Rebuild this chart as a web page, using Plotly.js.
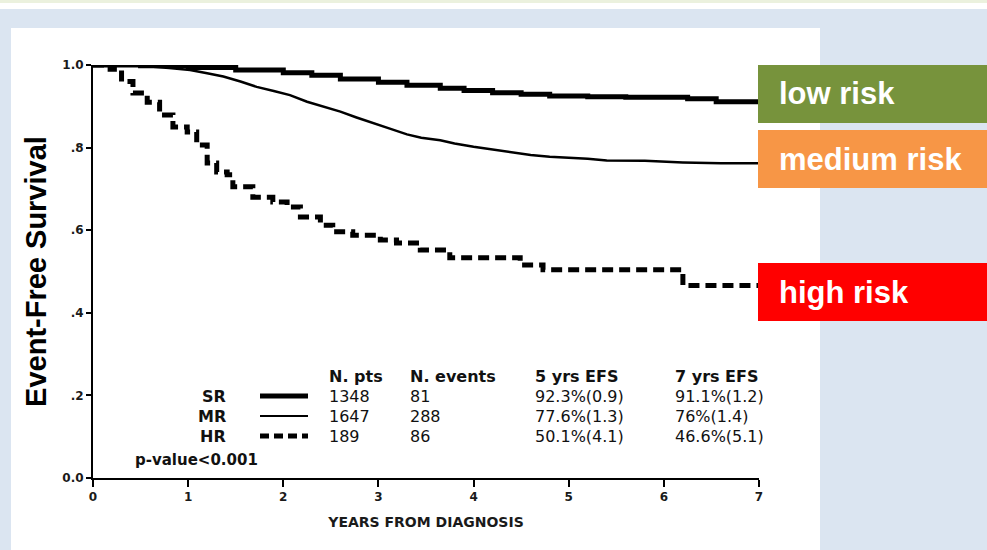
<!DOCTYPE html>
<html>
<head>
<meta charset="utf-8">
<script src="https://cdn.plot.ly/plotly-3.0.1.min.js"></script>
<style>html,body{margin:0;padding:0;background:#dbe5f1;}#chart{width:987px;height:550px;}</style>
</head>
<body>
<div id="chart"></div>
<script>
// ---- data ----
const srTime = [0, 0.5, 1.0, 1.5, 2.0, 2.3, 2.6, 3.0, 3.3, 3.65, 3.9, 4.2, 4.5, 4.8, 5.2, 5.6, 6.0, 6.25, 6.55, 7.0];
const srSurv = [1.0, 0.998, 0.994, 0.988, 0.981, 0.975, 0.966, 0.958, 0.951, 0.944, 0.938, 0.933, 0.929, 0.925, 0.923, 0.922, 0.922, 0.918, 0.911, 0.911];

const mrTime = [0, 0.5, 0.8, 1.02, 1.2, 1.37, 1.55, 1.72, 1.9, 2.07, 2.25, 2.42, 2.6, 2.77, 2.94, 3.12, 3.3, 3.45, 3.65, 3.8, 4.0, 4.2, 4.4, 4.6, 4.8, 5.0, 5.2, 5.4, 5.8, 6.2, 6.6, 7.0];
const mrSurv = [1.0, 0.998, 0.993, 0.988, 0.980, 0.972, 0.960, 0.947, 0.937, 0.927, 0.911, 0.900, 0.887, 0.873, 0.859, 0.846, 0.832, 0.824, 0.818, 0.810, 0.802, 0.795, 0.788, 0.782, 0.778, 0.776, 0.773, 0.769, 0.768, 0.764, 0.762, 0.762];

const hrTime = [0, 0.18, 0.3, 0.42, 0.57, 0.7, 0.84, 0.99, 1.09, 1.2, 1.3, 1.41, 1.47, 1.68, 1.89, 2.04, 2.18, 2.39, 2.52, 2.73, 3.02, 3.19, 3.44, 3.75, 4.49, 4.73, 6.2, 7.0];
const hrSurv = [1.0, 0.99, 0.96, 0.932, 0.91, 0.879, 0.85, 0.838, 0.806, 0.763, 0.741, 0.734, 0.705, 0.68, 0.668, 0.656, 0.632, 0.612, 0.596, 0.588, 0.576, 0.569, 0.552, 0.533, 0.516, 0.504, 0.466, 0.466];

const groups   = ['SR', 'MR', 'HR'];
const nPts     = ['1348', '1647', '189'];
const nEvents  = ['81', '288', '86'];
const efs5     = ['92.3%(0.9)', '77.6%(1.3)', '50.1%(4.1)'];
const efs7     = ['91.1%(1.2)', '76%(1.4)', '46.6%(5.1)'];
const headers  = ['N. pts', 'N. events', '5 yrs EFS', '7 yrs EFS'];
const riskLabels = ['low risk', 'medium risk', 'high risk'];
const yTickVals = [0, 0.2, 0.4, 0.6, 0.8, 1.0];
const yTickText = ['0.0', '.2', '.4', '.6', '.8', '1.0'];
const xTickVals = [0, 1, 2, 3, 4, 5, 6, 7];

// ---- geometry helpers (pixel -> paper) ----
const W = 987, H = 550, L = 93, R = 759, T = 65, B = 478;
const px = x => (x - L) / (R - L);
const py = y => (B - y) / (B - T);

const lineStyles = [
  {width: 5, dash: 'solid', shape: 'hv'},
  {width: 2.5, dash: 'solid', shape: 'linear'},
  {width: 5, dash: '11px,6px', shape: 'hv'}
];

const traces = [
  {x: srTime, y: srSurv, name: groups[0]},
  {x: mrTime, y: mrSurv, name: groups[1]},
  {x: hrTime, y: hrSurv, name: groups[2]}
].map((t, i) => Object.assign(t, {
  type: 'scatter', mode: 'lines', cliponaxis: false, hoverinfo: 'skip',
  line: {color: '#000', width: lineStyles[i].width, dash: lineStyles[i].dash, shape: lineStyles[i].shape}
}));

const shapes = [
  {type: 'rect', xref: 'paper', yref: 'paper', x0: px(0), x1: px(W), y0: py(3), y1: py(0), fillcolor: '#ebf1de', line: {width: 0}, layer: 'below'},
  {type: 'rect', xref: 'paper', yref: 'paper', x0: px(0), x1: px(W), y0: py(9), y1: py(3), fillcolor: '#ffffff', line: {width: 0}, layer: 'below'},
  {type: 'rect', xref: 'paper', yref: 'paper', x0: px(11), x1: px(820), y0: py(H), y1: py(28), fillcolor: '#ffffff', line: {width: 0}, layer: 'below'}
];
const riskColors = ['#77933c', '#f79646', '#ff0000'];
const riskBoxes = [[65, 123], [130, 188], [263, 321]];
riskBoxes.forEach((b, i) => shapes.push({
  type: 'rect', xref: 'paper', yref: 'paper', x0: px(758), x1: px(W), y0: py(b[1]), y1: py(b[0]),
  fillcolor: riskColors[i], line: {width: 0}, layer: 'above'
}));

const rowY = [396, 416, 436];
const headY = 376;
const sampleW = [5, 2, 5];
rowY.forEach((y, i) => shapes.push({
  type: 'line', xref: 'paper', yref: 'paper', x0: px(260), x1: px(308), y0: py(y), y1: py(y),
  line: {color: '#000', width: sampleW[i], dash: i === 2 ? '9px,5px' : 'solid'}, layer: 'above'
}));

const tFont = {family: 'DejaVu Sans', size: 16, color: '#111'};
const tBold = {family: 'DejaVu Sans', size: 16, color: '#111', weight: 'bold'};
const ann = (text, x, y, font, xanchor) => ({
  text: text, xref: 'paper', yref: 'paper', x: px(x), y: py(y),
  xanchor: xanchor || 'left', yanchor: 'middle', showarrow: false, font: font
});
const annotations = [];
const colX = [327, 408, 533, 673];
headers.forEach((h, j) => annotations.push(ann(h, colX[j], headY, tBold)));
groups.forEach((g, i) => {
  annotations.push(ann(g, 228, rowY[i], tBold, 'right'));
  annotations.push(ann(nPts[i], colX[0], rowY[i], tFont));
  annotations.push(ann(nEvents[i], colX[1], rowY[i], tFont));
  annotations.push(ann(efs5[i], colX[2], rowY[i], tFont));
  annotations.push(ann(efs7[i], colX[3], rowY[i], tFont));
});
annotations.push(ann('p-value<0.001', 133, 460, {family: 'DejaVu Sans', size: 15, color: '#111', weight: 'bold'}));
const riskTextY = [94, 159, 292];
riskLabels.forEach((r, i) => annotations.push(ann(r, 777, riskTextY[i],
  {family: 'Liberation Sans, Arial', size: 31, color: '#ffffff', weight: 'bold'})));

const tickFont = {family: 'DejaVu Sans', size: 12, color: '#1a1a1a', weight: 'bold'};
const layout = {
  width: W, height: H,
  margin: {l: L, r: W - R, t: T, b: H - B, pad: 0},
  paper_bgcolor: '#dbe5f1', plot_bgcolor: '#ffffff',
  showlegend: false,
  xaxis: {
    range: [0, 7], tickvals: xTickVals, ticks: 'outside', ticklen: 7, tickwidth: 2, tickcolor: '#000',
    showline: true, linecolor: '#000', linewidth: 2, showgrid: false, zeroline: false,
    tickfont: tickFont, automargin: false, fixedrange: true,
    title: {text: 'YEARS FROM DIAGNOSIS', font: {family: 'DejaVu Sans', size: 14, color: '#1a1a1a', weight: 'bold'}, standoff: 14}
  },
  yaxis: {
    range: [0, 1], tickvals: yTickVals, ticktext: yTickText, ticks: 'outside', ticklen: 5, tickwidth: 2, tickcolor: '#000',
    showline: true, linecolor: '#000', linewidth: 2, showgrid: false, zeroline: false,
    tickfont: tickFont, automargin: false, fixedrange: true,
    title: {text: 'Event-Free Survival', font: {family: 'Liberation Sans, Arial', size: 29, color: '#000', weight: 'bold'}, standoff: 7}
  },
  shapes: shapes,
  annotations: annotations
};

Plotly.newPlot('chart', traces, layout, {displayModeBar: false, staticPlot: true});
</script>
</body>
</html>
